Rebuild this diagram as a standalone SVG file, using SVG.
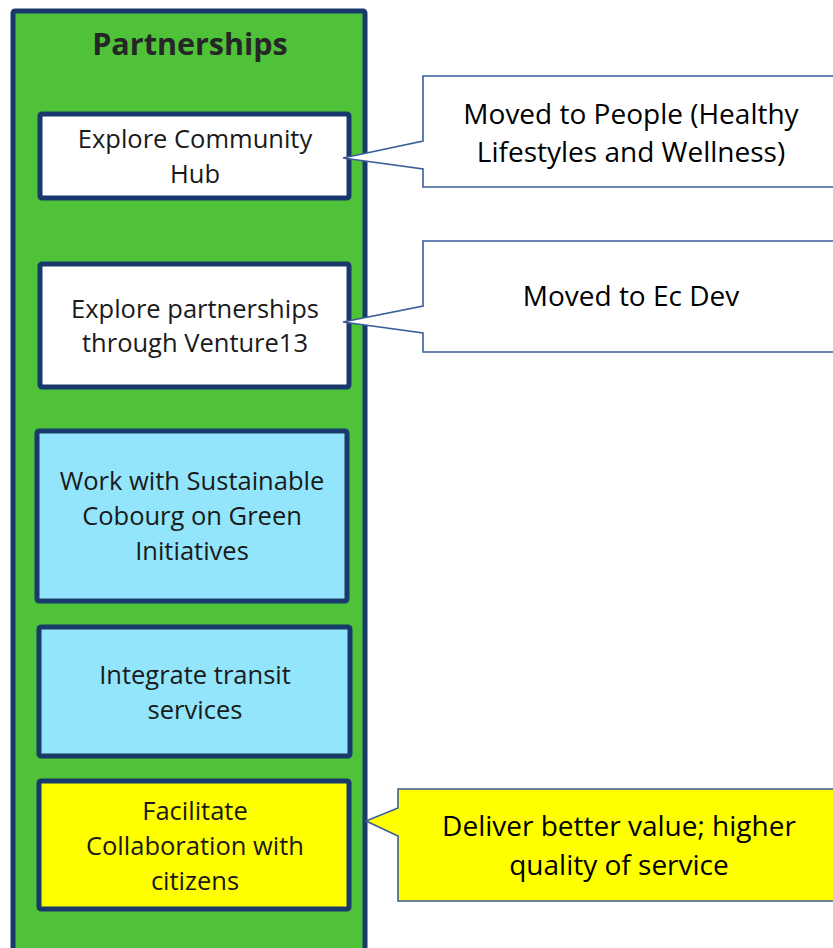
<svg xmlns="http://www.w3.org/2000/svg" width="833" height="948" viewBox="0 0 833 948">
<style>
.col{fill:#4FC23A;stroke:#173A6B;stroke-width:5}
.box{stroke:#173A6B;stroke-width:5}
.w{fill:#FFFFFF}
.b{fill:#92E5FB}
.y{fill:#FFFF00}
.call{stroke:#3A5E9C;stroke-width:1.6;stroke-linejoin:miter}
.t{font-family:"Open Sans",Lato,"Liberation Sans",sans-serif;text-anchor:middle;fill:#1A1A1A}
.bt{font-size:25.5px}
.ct{font-size:28px;fill:#000}
.h{font-size:30.5px;font-weight:bold;fill:#262626}
</style>
<rect width="833" height="948" fill="#FFFFFF"/>
<g id="column">
<rect class="col" x="13" y="11" width="352" height="950" rx="2"/>
<text class="t h" x="190" y="55">Partnerships</text>
</g>
<g id="n1">
<rect class="box w" x="40" y="114" width="309" height="84" rx="2"/>
<text class="t bt" x="195" y="148">Explore Community</text>
<text class="t bt" x="195" y="183">Hub</text>
</g>
<g id="n2">
<rect class="box w" x="40" y="264" width="309" height="123" rx="2"/>
<text class="t bt" x="195" y="318">Explore partnerships</text>
<text class="t bt" x="195" y="352">through Venture13</text>
</g>
<g id="n3">
<rect class="box b" x="37" y="431" width="310" height="170" rx="2"/>
<text class="t bt" x="192" y="490">Work with Sustainable</text>
<text class="t bt" x="192" y="525">Cobourg on Green</text>
<text class="t bt" x="192" y="560">Initiatives</text>
</g>
<g id="n4">
<rect class="box b" x="39" y="627" width="311" height="129" rx="2"/>
<text class="t bt" x="195" y="684">Integrate transit</text>
<text class="t bt" x="195" y="719">services</text>
</g>
<g id="n5">
<rect class="box y" x="39" y="781" width="310" height="128" rx="2"/>
<text class="t bt" x="195" y="820">Facilitate</text>
<text class="t bt" x="195" y="855">Collaboration with</text>
<text class="t bt" x="195" y="890">citizens</text>
</g>
<g id="connectors">
<path id="c1" class="call w" d="M423,76 L840,76 L840,187 L423,187 L423,169 L343,158 L423,141 Z"/>
<path id="c2" class="call w" d="M423,241 L840,241 L840,352 L423,352 L423,333 L343,322 L423,306 Z"/>
<path id="c3" class="call y" d="M398,789 L840,789 L840,901 L398,901 L398,836 L366,821 L398,808 Z"/>
</g>
<g id="callout1">
<text class="t ct" x="631" y="124">Moved to People (Healthy</text>
<text class="t ct" x="631" y="162">Lifestyles and Wellness)</text>
</g>
<g id="callout2">
<text class="t ct" x="631" y="306">Moved to Ec Dev</text>
</g>
<g id="callout3">
<text class="t ct" x="619" y="836">Deliver better value; higher</text>
<text class="t ct" x="619" y="875">quality of service</text>
</g>
</svg>
